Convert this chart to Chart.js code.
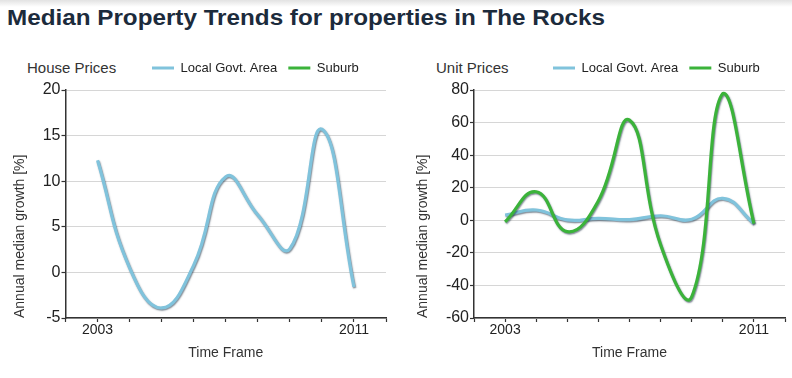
<!DOCTYPE html>
<html><head><meta charset="utf-8">
<script src="https://cdn.jsdelivr.net/npm/chart.js@4.4.1/dist/chart.umd.min.js"></script>
<style>
html,body{margin:0;padding:0;background:#fff;}
body{width:792px;height:378px;position:relative;overflow:hidden;font-family:'Liberation Sans',Arial,sans-serif;}
#topband{position:absolute;left:0;top:0;width:792px;height:7px;background:linear-gradient(#e2e2e2,#ffffff);}
#title{position:absolute;left:7px;top:5px;font-weight:bold;font-size:22px;line-height:normal;color:#1c2b3c;white-space:nowrap;transform-origin:0 0;}
.sub{position:absolute;top:59px;font-size:15px;line-height:normal;color:#333;white-space:nowrap;}
canvas{position:absolute;top:0;}
</style></head><body>
<div id="topband"></div>
<div id="title">Median Property Trends for properties in The Rocks</div>
<div class="sub" style="left:27px">House Prices</div>
<div class="sub" style="left:436px">Unit Prices</div>
<canvas id="house" width="396" height="378" style="left:0"></canvas>
<canvas id="unit" width="396" height="378" style="left:396px"></canvas>
<script>
// ---- data ----
const years = [2003, 2004, 2005, 2006, 2007, 2008, 2009, 2010, 2011];
const houseLGA = [12.3, 0.5, -3.9, 0.8, 10.5, 6.3, 2.6, 15.7, -1.6];
const houseSuburb = [];
const unitLGA = [3.2, 6.3, 0.2, 1.2, 0.4, 2.8, 0.6, 13.5, -2.0];
const unitSuburb = [-1.0, 17.5, -7.0, 12.0, 61.5, -15.0, -47.0, 77.8, -2.0];
const seriesNames = ['Local Govt. Area', 'Suburb'];
const xLabelYears = [2003, 2011];
const xRange = [2002, 2012];
const houseYTicks = [-5, 0, 5, 10, 15, 20];
const unitYTicks = [-60, -40, -20, 0, 20, 40, 60, 80];
const xTitle = 'Time Frame';
const yTitle = 'Annual median growth [%]';

// ---- styling ----
const FONT = "'Liberation Sans', Arial, sans-serif";
const BLUE = '#80c3dc';
const GREEN = '#3bb33a';
const PLOT_TOP = 90;
const PLOT_BOTTOM = 318;
const H = 378;

const t = document.getElementById('title');
const tw = t.getBoundingClientRect().width;
t.style.transform = 'scaleX(' + (598 / tw) + ')';

const shadowPlugin = {
  id: 'lineShadow',
  beforeDatasetDraw(chart) {
    const ctx = chart.ctx;
    ctx.save();
    ctx.shadowColor = 'rgba(20,40,60,0.55)';
    ctx.shadowBlur = 1.5;
    ctx.shadowOffsetX = 0.8;
    ctx.shadowOffsetY = 1.2;
  },
  afterDatasetDraw(chart) { chart.ctx.restore(); }
};

const layoutPlugin = {
  id: 'layoutFix',
  beforeInit(chart) {
    const lg = chart.legend;
    const fit = lg.fit;
    lg.fit = function () { fit.call(this); this.height = PLOT_TOP; };
  },
  afterLayout(chart, args, opts) {
    const lg = chart.legend;
    const h = lg.height, w = lg.width;
    lg.top = opts.legendTop; lg.bottom = lg.top + h;
    lg.left = opts.legendLeft; lg.right = lg.left + w;
  }
};

function pts(vals) { return vals.map((v, i) => ({ x: years[i], y: v })); }

function makeChart(id, lga, sub, yTicks, c) {
  const step = yTicks[1] - yTicks[0];
  return new Chart(document.getElementById(id), {
    type: 'line',
    data: {
      datasets: [
        { label: seriesNames[0], data: pts(lga), borderColor: BLUE, backgroundColor: BLUE, borderWidth: 3.2, pointRadius: 0, tension: 0.45, order: 2 },
        { label: seriesNames[1], data: pts(sub), borderColor: GREEN, backgroundColor: GREEN, borderWidth: 3.2, pointRadius: 0, tension: 0.45, order: 1 }
      ]
    },
    options: {
      responsive: false,
      animation: false,
      devicePixelRatio: 1,
      layout: { padding: { left: 0, right: 396 - c.plotRight, top: 0, bottom: 0 } },
      plugins: {
        tooltip: { enabled: false },
        layoutFix: { legendTop: 50.5, legendLeft: c.legendLeft },
        legend: {
          display: true,
          position: 'top',
          align: 'start',
          labels: {
            boxWidth: 22, boxHeight: 3, padding: 11,
            color: '#222',
            font: { family: FONT, size: 13 },
            sort: (a, b) => a.datasetIndex - b.datasetIndex,
            generateLabels(chart) {
              const items = Chart.defaults.plugins.legend.labels.generateLabels(chart);
              items.forEach(it => { it.fillStyle = it.strokeStyle; it.lineWidth = 0; });
              return items;
            }
          }
        }
      },
      scales: {
        x: {
          type: 'linear',
          min: xRange[0], max: xRange[1],
          afterFit(s) { s.height = H - PLOT_BOTTOM; },
          ticks: {
            stepSize: 1, autoSkip: false, maxRotation: 0, padding: 0,
            color: '#222', font: { family: FONT, size: 14 },
            callback: v => xLabelYears.includes(v) ? String(v) : ''
          },
          grid: { drawOnChartArea: false, drawTicks: true, tickLength: 4, tickColor: '#333', tickWidth: 1.2 },
          border: { color: '#333', width: 1.5 },
          title: { display: true, text: xTitle, color: '#333', font: { family: FONT, size: 14 }, padding: { top: 0, bottom: 16.6 } }
        },
        y: {
          min: yTicks[0], max: yTicks[yTicks.length - 1],
          afterFit(s) { s.width = c.plotLeft; },
          ticks: { stepSize: step, padding: 1, color: '#222', font: { family: FONT, size: 16 } },
          grid: { color: '#d6d6d6', lineWidth: 1, drawTicks: true, tickLength: 4, tickColor: '#333', tickWidth: 1.2 },
          border: { color: '#333', width: 1.5 },
          title: { display: true, text: yTitle, align: 'start', color: '#333', font: { family: FONT, size: 14 }, padding: { top: c.titlePad, bottom: 0 } }
        }
      }
    },
    plugins: [shadowPlugin, layoutPlugin]
  });
}

makeChart('house', houseLGA, houseSuburb, houseYTicks, { plotLeft: 65.5, plotRight: 386, titlePad: 11.6, legendLeft: 141 });
makeChart('unit', unitLGA, unitSuburb, unitYTicks, { plotLeft: 78, plotRight: 389, titlePad: 18.6, legendLeft: 146 });
</script>
</body></html>
